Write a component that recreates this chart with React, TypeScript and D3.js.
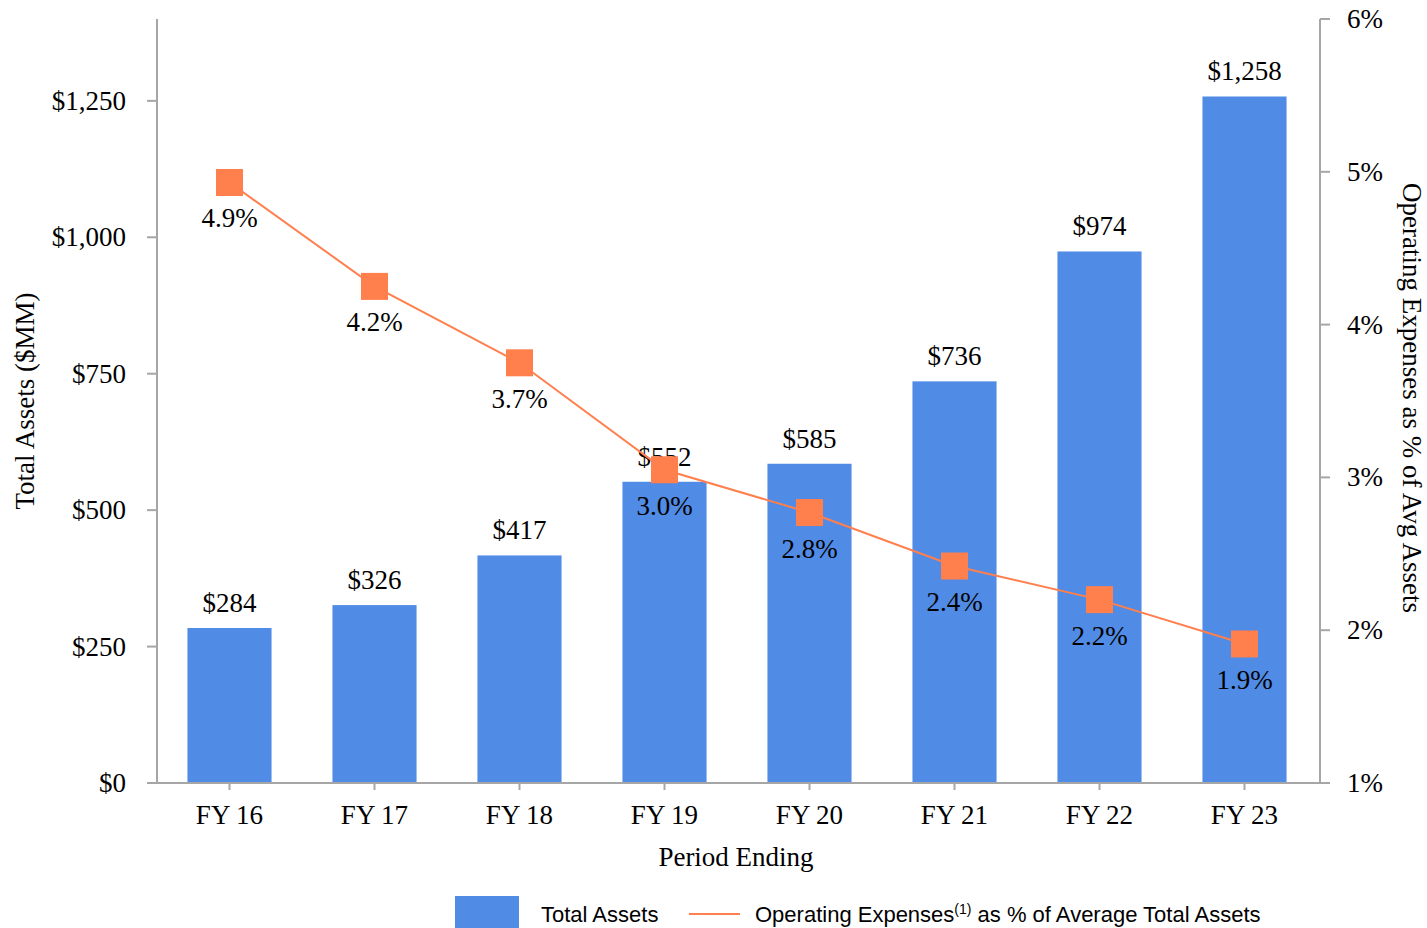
import React from "react";
import * as d3 from "d3";

const categories = ["FY 16", "FY 17", "FY 18", "FY 19", "FY 20", "FY 21", "FY 22", "FY 23"];
const totalAssets = [284, 326, 417, 552, 585, 736, 974, 1258];
const opexPct = [4.93, 4.25, 3.75, 3.05, 2.77, 2.42, 2.2, 1.91];
const opexLabels = ["4.9%", "4.2%", "3.7%", "3.0%", "2.8%", "2.4%", "2.2%", "1.9%"];
const leftTicks = [0, 250, 500, 750, 1000, 1250];
const rightTicks = [1, 2, 3, 4, 5, 6];

const W = 1427;
const H = 928;
const left = 157;
const right = 1320;
const top = 19;
const bottom = 783;

const BAR = "#508BE6";
const ORANGE = "#FF7F4D";
const AXIS = "#A6A6A6";
const SERIF = "'Liberation Serif', 'Times New Roman', serif";
const SANS = "'Liberation Sans', Arial, sans-serif";
const FS = 27;

export default function App() {
  const x = d3.scaleBand<string>().domain(categories).range([left, right - 3]).paddingInner(0.42).paddingOuter(0.21);
  const y = d3.scaleLinear().domain([0, 1400]).range([bottom, top]);
  const y2 = d3.scaleLinear().domain([1, 6]).range([bottom, top]);
  const cx = (c: string) => (x(c) as number) + x.bandwidth() / 2;
  const line = d3
    .line<number>()
    .x((_, i) => cx(categories[i]))
    .y((d) => y2(d));
  const fmt = d3.format(",");
  const ms = 27;

  return (
    <svg width={W} height={H} style={{ position: "absolute", left: 0, top: 0, background: "#fff" }}>
      {/* bars */}
      {categories.map((c, i) => (
        <rect key={c} x={x(c)} y={y(totalAssets[i])} width={x.bandwidth()} height={bottom - y(totalAssets[i])} fill={BAR} />
      ))}
      {/* axes */}
      <line x1={left} x2={left} y1={top} y2={bottom} stroke={AXIS} strokeWidth={2} />
      <line x1={right} x2={right} y1={top} y2={bottom} stroke={AXIS} strokeWidth={2} />
      <line x1={left} x2={right} y1={bottom} y2={bottom} stroke={AXIS} strokeWidth={2} />
      {leftTicks.map((t) => (
        <g key={t}>
          <line x1={left - 10} x2={left} y1={y(t)} y2={y(t)} stroke={AXIS} strokeWidth={2} />
          <text x={126} y={y(t) + 9} textAnchor="end" fontFamily={SERIF} fontSize={FS} fill="#000">
            ${fmt(t)}
          </text>
        </g>
      ))}
      {rightTicks.map((t) => (
        <g key={t}>
          <line x1={right} x2={right + 10} y1={y2(t)} y2={y2(t)} stroke={AXIS} strokeWidth={2} />
          <text x={1347} y={y2(t) + 9} textAnchor="start" fontFamily={SERIF} fontSize={FS} fill="#000">
            {t}%
          </text>
        </g>
      ))}
      {categories.map((c) => (
        <g key={c}>
          <line x1={cx(c)} x2={cx(c)} y1={bottom} y2={bottom + 7} stroke={AXIS} strokeWidth={2} />
          <text x={cx(c)} y={824} textAnchor="middle" fontFamily={SERIF} fontSize={FS} fill="#000">
            {c}
          </text>
        </g>
      ))}
      {/* bar labels */}
      {categories.map((c, i) => (
        <text key={c} x={cx(c)} y={y(totalAssets[i]) - 16} textAnchor="middle" fontFamily={SERIF} fontSize={FS} fill="#000">
          ${fmt(totalAssets[i])}
        </text>
      ))}
      {/* line */}
      <path d={line(opexPct) || ""} fill="none" stroke={ORANGE} strokeWidth={2} />
      {categories.map((c, i) => (
        <rect key={c} x={cx(c) - ms / 2} y={y2(opexPct[i]) - ms / 2} width={ms} height={ms} fill={ORANGE} />
      ))}
      {categories.map((c, i) => (
        <text key={c} x={cx(c)} y={y2(opexPct[i]) + 45} textAnchor="middle" fontFamily={SERIF} fontSize={FS} fill="#000">
          {opexLabels[i]}
        </text>
      ))}
      {/* axis titles */}
      <text transform={`translate(34, ${(top + bottom) / 2}) rotate(-90)`} textAnchor="middle" fontFamily={SERIF} fontSize={FS} fill="#000">
        Total Assets ($MM)
      </text>
      <text transform={`translate(1403, ${(top + bottom) / 2 - 3}) rotate(90)`} textAnchor="middle" fontFamily={SERIF} fontSize={FS} fill="#000">
        Operating Expenses as % of Avg Assets
      </text>
      <text x={736} y={866} textAnchor="middle" fontFamily={SERIF} fontSize={FS} fill="#000">
        Period Ending
      </text>
      {/* legend */}
      <rect x={455} y={896} width={64} height={32} fill={BAR} />
      <text x={541} y={922} fontFamily={SANS} fontSize={22} fill="#000">
        Total Assets
      </text>
      <line x1={689} x2={740} y1={914} y2={914} stroke={ORANGE} strokeWidth={2} />
      <text x={755} y={922} fontFamily={SANS} fontSize={22} fill="#000">
        Operating Expenses
        <tspan fontSize={14} dy={-8}>(1)</tspan>
        <tspan dy={8}> as % of Average Total Assets</tspan>
      </text>
    </svg>
  );
}
